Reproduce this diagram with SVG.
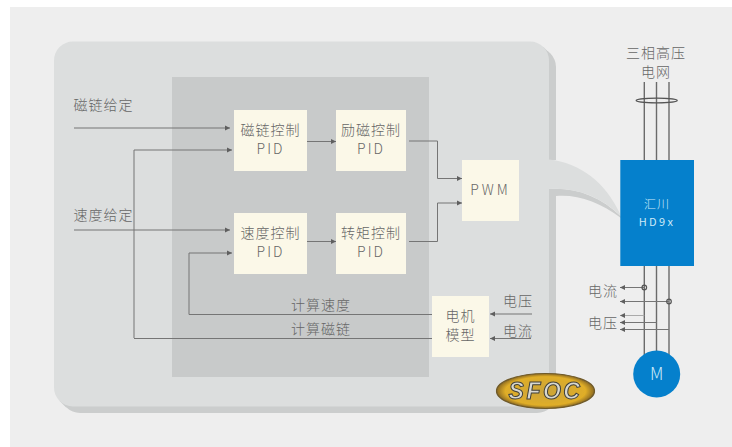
<svg xmlns="http://www.w3.org/2000/svg" width="732" height="447" viewBox="0 0 732 447">
<defs>
<marker id="a" markerUnits="userSpaceOnUse" markerWidth="6" markerHeight="6" refX="5" refY="3" orient="auto"><path d="M0 .5L5 3L0 5.500Z" fill="#5f5f5f"/></marker>
<filter id="b" x="-5%" y="-5%" width="110%" height="110%"><feGaussianBlur stdDeviation="0.4"/></filter>
<radialGradient id="g" cx=".5" cy=".5" r=".5"><stop offset="0" stop-color="#c9a33a"/><stop offset=".82" stop-color="#e0ae28"/><stop offset="1" stop-color="#8c6a22"/></radialGradient>
</defs>
<style>
text{font-family:"Noto Sans CJK SC","Noto Sans",sans-serif;font-weight:300;fill:#666;font-size:14px;letter-spacing:1px}
.m{text-anchor:middle}
.pid{letter-spacing:2px}
.b{fill:#fbf8e8}
.c{fill:none;stroke:#757575;stroke-width:1}
.ar{marker-end:url(#a)}
.p{fill:none;stroke:#6b6b6b;stroke-width:1.400}
</style>
<rect x="0" y="0" width="732" height="447" fill="#fff"/>
<rect x="10" y="7" width="722" height="440" fill="#eeeeee"/>
<g id="panel">
<rect x="61" y="48" width="495" height="365" rx="19" fill="#cbcdcd"/>
<path d="M543.400 47.100L550 53.600L530 60ZM59.600 400.900L66.200 407.400L75 395Z" fill="#cbcdcd"/>
<rect x="549" y="160" width="8" height="36" fill="#eeeeee"/>
<path d="M549 189C575 187 600 196 621 216.500L621 218C600 202 577 194 556 196L549 196Z" fill="#cbcdcd"/>
<path d="M549 159.500C580 163 606 182 621 216C600 196 575 187 549 189Z" fill="#dcdede"/>
<rect x="54" y="41.500" width="495" height="365" rx="19" fill="#dcdede"/>
<rect x="172" y="77" width="257" height="300" fill="#c8caca"/>
</g>
<g id="connectors">
<path class="c ar" d="M74 128H230"/>
<path class="c ar" d="M134 338V150H232"/>
<path class="c ar" d="M74 230H230"/>
<path class="c ar" d="M189 314.500V253H232"/>
<path class="c" d="M189 314.500H432M134 338.500H432"/>
<path class="c ar" d="M307 141.500H336"/>
<path class="c ar" d="M307 241.500H336"/>
<path class="c ar" d="M409 141H437.500V178.500H462"/>
<path class="c ar" d="M409 241.500H437.500V203H462"/>
<path class="c ar" d="M532 314H490"/>
<path class="c ar" d="M531 338.500H490"/>
<g id="lines">
<path class="p" d="M644.300 82V160M656.500 82V160M669 82V160M644.300 266V355M656.500 266V355M669 266V355"/>
<ellipse cx="656.700" cy="100.500" rx="20.500" ry="2.300" fill="none" stroke="#555" stroke-width="1.300"/>
<path class="c ar" d="M644.300 287.500H620"/>
<path class="c ar" d="M669 301.500H620"/>
<path class="ar" d="M644.300 315.500H620" fill="none" stroke="#aaa"/>
<path class="c ar" d="M656.500 322.500H620"/>
<path class="c ar" d="M669 329.500H620"/>
<circle cx="644.300" cy="287.500" r="2.300" fill="none" stroke="#555" stroke-width="1.200"/>
<circle cx="669" cy="301.500" r="2.300" fill="none" stroke="#555" stroke-width="1.200"/>
</g>
</g>
<text x="73.500" y="110">磁链给定</text>
<text x="73.500" y="220">速度给定</text>
<g id="n1"><rect class="b" x="234" y="110" width="73" height="61"/><text class="m" x="270.500" y="135">磁链控制</text><text class="m pid" x="270.500" y="154">PID</text></g>
<g id="n2"><rect class="b" x="336" y="110" width="70" height="61"/><text class="m" x="371" y="135">励磁控制</text><text class="m pid" x="371" y="154">PID</text></g>
<g id="n3"><rect class="b" x="234" y="213" width="73" height="61"/><text class="m" x="270.500" y="238">速度控制</text><text class="m pid" x="270.500" y="257">PID</text></g>
<g id="n4"><rect class="b" x="336" y="213" width="70" height="61"/><text class="m" x="371" y="238">转矩控制</text><text class="m pid" x="371" y="257">PID</text></g>
<g id="n5"><rect class="b" x="462" y="160" width="57" height="61"/><text class="m" x="490.500" y="195" style="letter-spacing:3px">PWM</text></g>
<g id="n6"><rect class="b" x="432" y="296" width="57" height="61"/><text class="m" x="460.500" y="321">电机</text><text class="m" x="460.500" y="340">模型</text></g>
<text x="291" y="310">计算速度</text>
<text x="291" y="334">计算磁链</text>
<text x="503" y="306">电压</text>
<text x="503" y="336">电流</text>
<text class="m" x="656" y="58">三相高压</text>
<text class="m" x="656" y="77">电网</text>
<g id="n7"><rect x="620.300" y="160" width="73.700" height="106" fill="#0580cc"/><text class="m" x="657" y="209" style="fill:#cdeaf8;font-size:12px">汇川</text><text class="m" x="657" y="226" style="fill:#cdeaf8;font-size:11px;font-weight:400;letter-spacing:2.300px">HD9x</text></g>
<text x="588" y="296">电流</text>
<text x="588" y="328">电压</text>
<g id="n8"><circle cx="656.700" cy="374" r="23.500" fill="#0580cc"/><text class="m" x="656.700" y="379.500" style="fill:#cdeaf8;font-size:17px;letter-spacing:0">M</text></g>
<g id="logo" filter="url(#b)">
<ellipse cx="545.500" cy="391" rx="49" ry="17.500" fill="url(#g)" stroke="#6f5a2a" stroke-width="1.200"/>
<text class="m" x="545.500" y="399" style="font-family:'Liberation Sans',sans-serif;font-weight:700;font-style:italic;font-size:23px;letter-spacing:2.500px;fill:#d8d8d0;stroke:#3f3f38;stroke-width:1px">SFOC</text>
</g>
</svg>
